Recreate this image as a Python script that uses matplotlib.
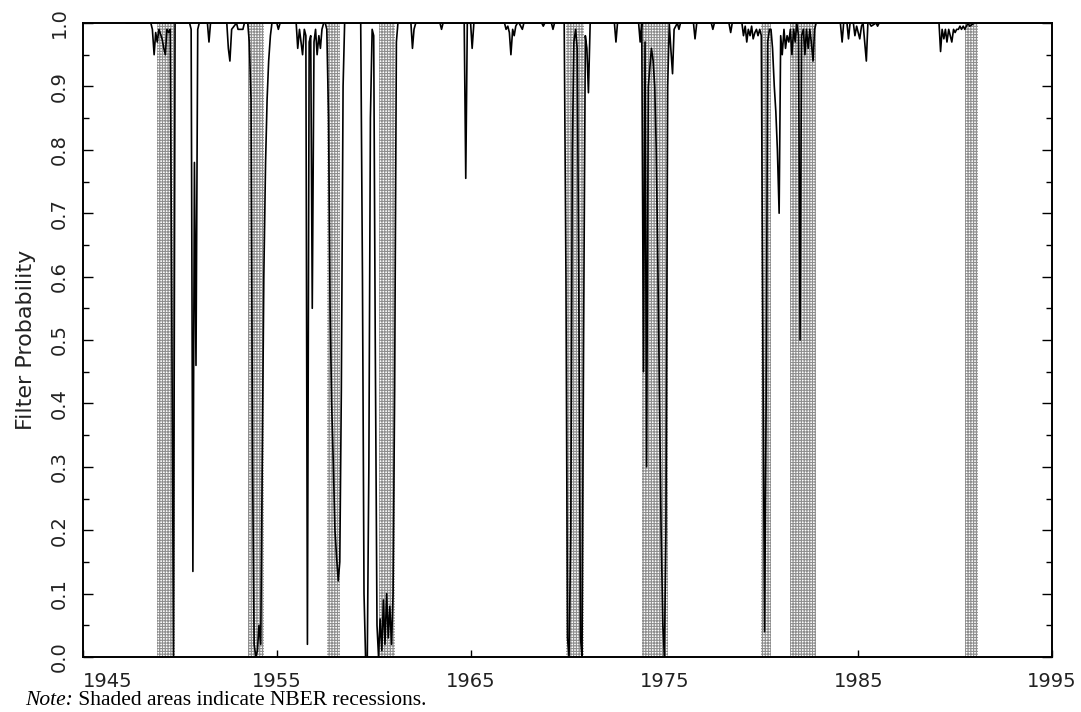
import matplotlib
matplotlib.use('Agg')
import matplotlib.pyplot as plt
from matplotlib.ticker import MultipleLocator

# NBER recessions (peak month, trough month) as decimal years
rec_start = [1948.83, 1953.50, 1957.58, 1960.25, 1969.92, 1973.83, 1980.00, 1981.50, 1990.50]
rec_end = [1949.75, 1954.33, 1958.25, 1961.08, 1970.83, 1975.17, 1980.50, 1982.83, 1991.17]

# filter probability, (year, prob) pairs, grouped by stretch
p_1947_1953 = [
    (1947.25, 1.000), (1948.50, 1.000), (1948.58, 0.990), (1948.67, 0.950), (1948.75, 0.985),
    (1948.83, 0.970), (1948.92, 0.990), (1949.08, 0.975), (1949.17, 0.960), (1949.25, 0.950),
    (1949.33, 0.990), (1949.42, 0.985), (1949.50, 0.990), (1949.58, 0.550), (1949.67, 0.000),
    (1949.75, 1.000), (1950.50, 1.000), (1950.58, 0.990), (1950.67, 0.135), (1950.75, 0.780),
    (1950.83, 0.460), (1950.92, 0.990), (1951.00, 1.000), (1951.42, 1.000), (1951.50, 0.970),
    (1951.58, 1.000), (1952.42, 1.000), (1952.50, 0.960), (1952.58, 0.940), (1952.67, 0.990),
    (1952.92, 1.000), (1953.00, 0.990), (1953.25, 0.990), (1953.33, 1.000),
]
p_1953_1959 = [
    (1953.50, 1.000), (1953.58, 0.970), (1953.67, 0.880), (1953.75, 0.300), (1953.83, 0.020),
    (1953.92, 0.000), (1954.00, 0.010), (1954.08, 0.050), (1954.17, 0.020), (1954.25, 0.300),
    (1954.33, 0.600), (1954.42, 0.780), (1954.50, 0.880), (1954.58, 0.940), (1954.67, 0.980),
    (1954.75, 1.000), (1955.00, 1.000), (1955.08, 0.990), (1955.17, 1.000), (1956.00, 1.000),
    (1956.08, 0.960), (1956.17, 0.990), (1956.25, 0.970), (1956.33, 0.950), (1956.42, 0.990),
    (1956.50, 0.980), (1956.58, 0.020), (1956.67, 0.970), (1956.75, 0.980), (1956.83, 0.550),
    (1956.92, 0.970), (1957.00, 0.990), (1957.08, 0.950), (1957.17, 0.980), (1957.25, 0.960),
    (1957.33, 0.990), (1957.42, 1.000), (1957.50, 1.000), (1957.58, 0.990), (1957.67, 0.850),
    (1957.75, 0.550), (1957.83, 0.400), (1957.92, 0.300), (1958.00, 0.200), (1958.08, 0.160),
    (1958.17, 0.120), (1958.25, 0.150), (1958.33, 0.420), (1958.42, 0.900), (1958.50, 1.000),
]
p_1959_1969 = [
    (1959.33, 1.000), (1959.42, 0.600), (1959.50, 0.100), (1959.58, 0.000), (1959.67, 0.000),
    (1959.75, 0.300), (1959.83, 0.850), (1959.92, 0.990), (1960.00, 0.980), (1960.08, 0.500),
    (1960.17, 0.050), (1960.25, 0.000), (1960.33, 0.060), (1960.42, 0.010), (1960.50, 0.090),
    (1960.58, 0.020), (1960.67, 0.100), (1960.75, 0.030), (1960.83, 0.080), (1960.92, 0.020),
    (1961.00, 0.100), (1961.08, 0.420), (1961.17, 0.970), (1961.25, 1.000), (1961.92, 1.000),
    (1962.00, 0.960), (1962.08, 0.990), (1962.17, 1.000), (1963.42, 1.000), (1963.50, 0.990),
    (1963.58, 1.000), (1964.67, 1.000), (1964.75, 0.755), (1964.83, 1.000), (1965.00, 1.000),
    (1965.08, 0.960), (1965.17, 1.000), (1966.75, 1.000), (1966.83, 0.990), (1966.92, 0.995),
    (1967.00, 0.985), (1967.08, 0.950), (1967.17, 0.990), (1967.25, 0.980), (1967.33, 0.995),
    (1967.42, 1.000), (1967.50, 1.000), (1967.67, 0.990), (1967.75, 1.000), (1968.67, 1.000),
    (1968.75, 0.995), (1968.83, 1.000), (1969.17, 1.000), (1969.25, 0.990), (1969.33, 1.000),
]
p_1969_1976 = [
    (1969.83, 1.000), (1969.92, 0.600), (1970.00, 0.030), (1970.08, 0.000), (1970.17, 0.200),
    (1970.25, 0.800), (1970.33, 0.970), (1970.42, 0.990), (1970.50, 0.960), (1970.58, 0.600),
    (1970.67, 0.030), (1970.75, 0.000), (1970.83, 0.500), (1970.92, 0.980), (1971.00, 0.960),
    (1971.08, 0.890), (1971.17, 1.000), (1972.42, 1.000), (1972.50, 0.970), (1972.58, 1.000),
    (1973.67, 1.000), (1973.75, 0.970), (1973.83, 1.000), (1973.92, 0.450), (1974.00, 0.970),
    (1974.08, 0.300), (1974.17, 0.900), (1974.25, 0.930), (1974.33, 0.960), (1974.42, 0.940),
    (1974.50, 0.900), (1974.58, 0.800), (1974.67, 0.600), (1974.75, 0.400), (1974.83, 0.200),
    (1974.92, 0.050), (1975.00, 0.000), (1975.08, 0.200), (1975.17, 0.900), (1975.25, 1.000),
    (1975.33, 0.960), (1975.42, 0.920), (1975.50, 0.990), (1975.67, 1.000), (1975.75, 0.990),
    (1975.83, 1.000),
]
p_1976_1983 = [
    (1976.50, 1.000), (1976.58, 0.975), (1976.67, 1.000), (1977.42, 1.000), (1977.50, 0.990),
    (1977.58, 1.000), (1978.33, 1.000), (1978.42, 0.985), (1978.50, 1.000), (1979.00, 1.000),
    (1979.08, 0.980), (1979.17, 0.995), (1979.25, 0.970), (1979.33, 0.990), (1979.42, 0.980),
    (1979.50, 0.995), (1979.58, 0.975), (1979.67, 0.985), (1979.75, 0.990), (1979.83, 0.980),
    (1979.92, 0.990), (1980.00, 0.980), (1980.08, 0.500), (1980.17, 0.040), (1980.25, 0.400),
    (1980.33, 0.970), (1980.42, 0.990), (1980.50, 0.990), (1980.58, 0.960), (1980.67, 0.900),
    (1980.75, 0.860), (1980.83, 0.800), (1980.92, 0.700), (1981.00, 0.980), (1981.08, 0.950),
    (1981.17, 0.990), (1981.25, 0.960), (1981.33, 0.980), (1981.42, 0.970), (1981.50, 0.990),
    (1981.58, 0.950), (1981.67, 0.990), (1981.75, 0.970), (1981.83, 1.000), (1981.92, 0.980),
    (1982.00, 0.500), (1982.08, 0.980), (1982.17, 0.990), (1982.25, 0.950), (1982.33, 0.990),
    (1982.42, 0.960), (1982.50, 0.990), (1982.58, 0.970), (1982.67, 0.940), (1982.75, 0.990),
    (1982.83, 1.000),
]
p_1983_1995 = [
    (1984.08, 1.000), (1984.17, 0.970), (1984.25, 1.000), (1984.42, 1.000), (1984.50, 0.975),
    (1984.58, 1.000), (1984.75, 1.000), (1984.83, 0.980), (1984.92, 0.995), (1985.08, 0.975),
    (1985.17, 0.995), (1985.25, 1.000), (1985.42, 0.940), (1985.50, 1.000), (1985.58, 1.000),
    (1985.67, 0.995), (1985.92, 1.000), (1986.00, 0.995), (1986.08, 1.000), (1989.17, 1.000),
    (1989.25, 0.955), (1989.33, 0.990), (1989.42, 0.975), (1989.50, 0.990), (1989.58, 0.970),
    (1989.67, 0.990), (1989.75, 0.980), (1989.83, 0.970), (1989.92, 0.990), (1990.00, 0.985),
    (1990.08, 0.990), (1990.17, 0.990), (1990.25, 0.995), (1990.33, 0.990), (1990.42, 0.995),
    (1990.50, 0.990), (1990.58, 0.995), (1990.67, 1.000), (1990.75, 0.995), (1991.00, 1.000),
    (1995.00, 1.000),
]

xticks = [1945, 1955, 1965, 1975, 1985, 1995]
yticks = [0.0, 0.1, 0.2, 0.3, 0.4, 0.5, 0.6, 0.7, 0.8, 0.9, 1.0]

plt.rcParams['font.family'] = ['DejaVu Sans']
plt.rcParams['hatch.linewidth'] = 0.8

fig = plt.figure(figsize=(10.81, 7.12), dpi=100)
ax = fig.add_axes([83 / 1081, 1 - 657 / 712, (1052 - 83) / 1081, (657 - 23) / 712])

# dotted grey shading for the recessions
for s, e in zip(rec_start, rec_end):
    ax.axvspan(s, e, facecolor='white', edgecolor='#8e8e8e', hatch='++++++', linewidth=0, zorder=1)

pts = p_1947_1953 + p_1953_1959 + p_1959_1969 + p_1969_1976 + p_1976_1983 + p_1983_1995
years = [t for t, v in pts]
prob = [v for t, v in pts]
ax.plot(years, prob, color='black', linewidth=1.2, zorder=3)

ax.set_xlim(1945, 1995)
ax.set_ylim(0.0, 1.0)
ax.set_xticks(xticks)
ax.set_xticklabels([str(v) for v in xticks])
ax.set_yticks(yticks)
ax.set_yticklabels(['%.1f' % v for v in yticks], rotation=90, va='center')
ax.yaxis.set_minor_locator(MultipleLocator(0.05))

ax.tick_params(axis='x', direction='in', length=5, width=1, pad=11, labelsize=14, top=False)
ax.tick_params(axis='y', which='major', direction='in', length=7, width=1, pad=10,
               labelsize=14, right=True)
ax.tick_params(axis='y', which='minor', direction='in', length=4, width=1, right=True)
for lbl in ax.get_xticklabels() + ax.get_yticklabels():
    lbl.set_color('#222222')
ax.get_xticklabels()[0].set_horizontalalignment('left')

for sp in ax.spines.values():
    sp.set_linewidth(1.4)

ax.set_ylabel('Filter Probability', fontsize=16, color='#222222', labelpad=10)

note = fig.text(25 / 1081, 2 / 712, 'Note:', fontsize=15.5, family='Liberation Serif',
                style='italic', va='bottom')
ax.annotate(' Shaded areas indicate NBER recessions.', xy=(1, 0), xycoords=note,
            fontsize=15.5, family='Liberation Serif', va='bottom', ha='left',
            annotation_clip=False)

fig.savefig('out.png', dpi=100)
